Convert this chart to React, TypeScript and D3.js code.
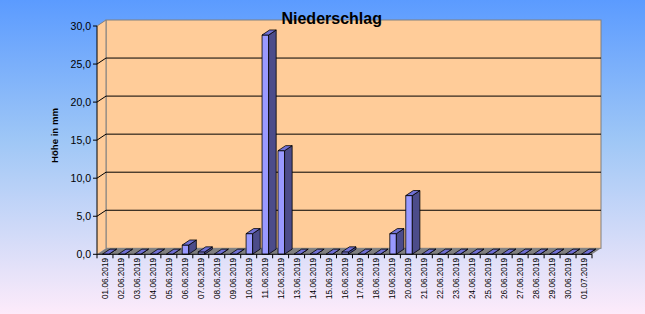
import React from "react";
import * as d3 from "d3";

const categories = [
  "01.06.2019","02.06.2019","03.06.2019","04.06.2019","05.06.2019","06.06.2019","07.06.2019",
  "08.06.2019","09.06.2019","10.06.2019","11.06.2019","12.06.2019","13.06.2019","14.06.2019",
  "15.06.2019","16.06.2019","17.06.2019","18.06.2019","19.06.2019","20.06.2019","21.06.2019",
  "22.06.2019","23.06.2019","24.06.2019","25.06.2019","26.06.2019","27.06.2019","28.06.2019",
  "29.06.2019","30.06.2019","01.07.2019"
];
const values = [
  0, 0, 0, 0, 0, 1.2, 0.3, 0, 0, 2.7, 28.8, 13.6, 0, 0, 0, 0.3, 0, 0, 2.7, 7.7,
  0, 0, 0, 0, 0, 0, 0, 0, 0, 0, 0
];
const yTicks = [0, 5, 10, 15, 20, 25, 30];
const title = "Niederschlag";
const yTitle = "Höhe in mm";

const W = 645, H = 314;
const X0 = 97, X1 = 592;
const Y0 = 254.3, Y30 = 26;
const DX = 9, DY = -6;

export default function App() {
  const x = d3.scaleBand<string>().domain(categories).range([X0, X1]).paddingInner(0).paddingOuter(0);
  const y = d3.scaleLinear().domain([0, 30]).range([Y0, Y30]);
  const bw = x.bandwidth();
  const fmt = (v: number) => d3.format(".1f")(v).replace(".", ",");

  const z0 = 0.02, z1 = 0.86;
  const barW = bw * 0.41;

  const pts = (a: [number, number][]) => a.map((p) => p.join(",")).join(" ");

  return (
    <svg width={W} height={H} style={{ position: "absolute", left: 0, top: 0 }} fontFamily="Liberation Sans, Arial, sans-serif">
      <defs>
        <linearGradient id="bg" x1="0" y1="0" x2="0" y2="1">
          <stop offset="0" stopColor="#5b9bff" />
          <stop offset="0.45" stopColor="#9fc7f6" />
          <stop offset="1" stopColor="#fdebfa" />
        </linearGradient>
      </defs>
      <rect x={0} y={0} width={W} height={H} fill="url(#bg)" />
      {/* back wall */}
      <rect x={X0 + DX} y={y(30) + DY} width={X1 - X0} height={y(0) - y(30)} fill="#ffcc99" stroke="#808080" strokeWidth={1} />
      {/* side wall */}
      <polygon points={pts([[X0, y(30)], [X0 + DX, y(30) + DY], [X0 + DX, y(0) + DY], [X0, y(0)]])} fill="#ffcc99" />
      <line x1={X0} y1={y(30)} x2={X0 + DX} y2={y(30) + DY} stroke="#808080" />
      <line x1={X0 + DX} y1={y(30) + DY} x2={X0 + DX} y2={y(0) + DY} stroke="#808080" />
      {/* gridlines */}
      {yTicks.filter((t) => t > 0 && t < 30).map((t) => (
        <g key={t}>
          <line x1={X0} y1={y(t)} x2={X0 + DX} y2={y(t) + DY} stroke="#000" strokeWidth={1} />
          <line x1={X0 + DX} y1={y(t) + DY} x2={X1 + DX} y2={y(t) + DY} stroke="#000" strokeWidth={1} />
        </g>
      ))}
      {/* floor */}
      <polygon points={pts([[X0, y(0)], [X1, y(0)], [X1 + DX, y(0) + DY], [X0 + DX, y(0) + DY]])} fill="#808080" />
      {/* bars */}
      {categories.map((c, i) => {
        const cx = (x(c) as number) + bw / 2;
        const fx0 = cx - barW / 2 + 0.5 + DX * z0;
        const fx1 = fx0 + barW;
        const fyb = y(0) + DY * z0;
        const fyt = y(values[i]) + DY * z0;
        const ddx = DX * (z1 - z0), ddy = DY * (z1 - z0);
        return (
          <g key={c} stroke="#000" strokeWidth={0.8} strokeLinejoin="round">
            <rect x={fx0} y={fyt} width={barW} height={fyb - fyt} fill="#9999ff" />
            <polygon points={pts([[fx1, fyt], [fx1 + ddx, fyt + ddy], [fx1 + ddx, fyb + ddy], [fx1, fyb]])} fill="#4c4c8a" />
            <polygon points={pts([[fx0, fyt], [fx1, fyt], [fx1 + ddx, fyt + ddy], [fx0 + ddx, fyt + ddy]])} fill="#7070d4" />
          </g>
        );
      })}
      {/* axes */}
      <line x1={X0} y1={y(30)} x2={X0} y2={y(0)} stroke="#000" />
      {yTicks.map((t) => (
        <g key={t}>
          <line x1={X0 - 4} y1={y(t)} x2={X0} y2={y(t)} stroke="#000" />
          <text x={X0 - 6} y={y(t) + 3.8} fontSize={10.5} textAnchor="end" fill="#000">{fmt(t)}</text>
        </g>
      ))}
      <line x1={X0} y1={y(0)} x2={X1} y2={y(0)} stroke="#000" />
      {categories.map((c) => (
        <line key={c} x1={x(c) as number} y1={y(0)} x2={x(c) as number} y2={y(0) + 4} stroke="#000" />
      ))}
      <line x1={X1} y1={y(0)} x2={X1} y2={y(0) + 4} stroke="#000" />
      {categories.map((c) => {
        const cx = (x(c) as number) + bw / 2 + 3;
        return (
          <text key={c} transform={`translate(${cx},${258}) rotate(-90)`} fontSize={8.2} textAnchor="end" fill="#000">{c}</text>
        );
      })}
      <text transform={`translate(58,135.5) rotate(-90)`} fontSize={9.6} fontWeight="bold" textAnchor="middle" fill="#000">{yTitle}</text>
      <text x={331.7} y={24.4} fontSize={16} fontWeight="bold" textAnchor="middle" fill="#000">{title}</text>
    </svg>
  );
}
